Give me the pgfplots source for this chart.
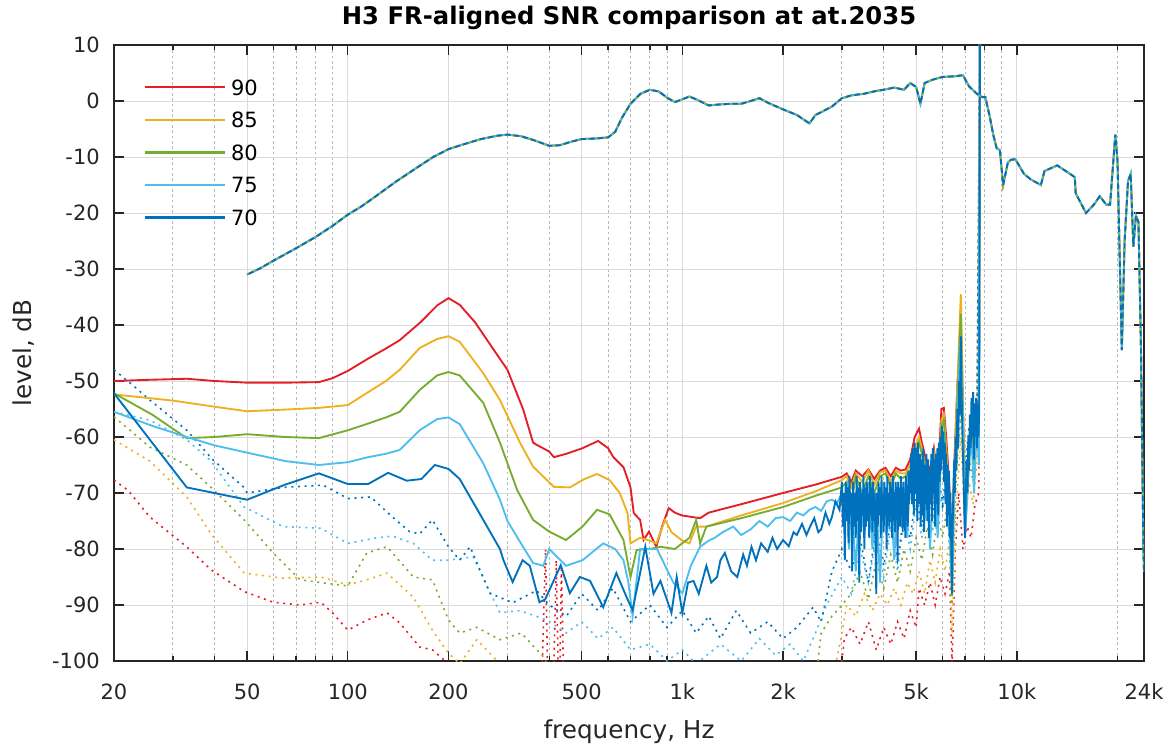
\documentclass[border=0pt]{standalone}
\usepackage{fontspec}
\setmainfont{DejaVu Sans}
\usepackage{pgfplots}
\usepackage{pgfplotstable}
\pgfplotsset{compat=1.18}
\definecolor{c90}{RGB}{228,30,38}
\definecolor{c85}{RGB}{237,177,32}
\definecolor{c80}{RGB}{119,172,48}
\definecolor{c75}{RGB}{77,190,238}
\definecolor{c70}{RGB}{0,114,189}
\definecolor{axc}{RGB}{38,38,38}
\begin{document}
\pgfplotstableread{
x y
50 -31
55 -29.8
60 -28.5
70 -26.3
80 -24.3
90 -22.3
100 -20.3
110 -18.8
120 -17.2
140 -14.3
160 -12.0
180 -10.0
200 -8.6
220 -7.8
250 -6.8
280 -6.2
300 -6.0
330 -6.3
360 -7.0
400 -8.0
430 -7.9
470 -7.2
500 -6.8
550 -6.7
600 -6.5
630 -5.5
660 -3.0
700 -0.5
750 1.3
800 2.0
850 1.7
900 0.6
950 -0.2
1000 0.3
1050 0.8
1100 0.3
1200 -0.8
1300 -0.6
1400 -0.5
1500 -0.5
1600 0.0
1700 0.5
1800 -0.3
2000 -1.5
2200 -2.5
2400 -4.0
2500 -2.5
2600 -2.0
2800 -1.0
3000 0.5
3200 1.0
3500 1.3
3800 1.8
4000 2.0
4300 2.4
4600 2.0
4800 3.2
5000 2.5
5150 -0.5
5300 3.2
5600 3.8
6000 4.3
6500 4.4
6900 4.6
7200 2.6
7500 1.6
7700 1.0
7900 0.7
8050 0.7
8300 -2.8
8500 -6
8700 -8.4
8900 -8.8
9100 -15
9400 -11
9600 -10.5
9900 -10.4
10500 -13
11000 -14
11800 -15
12100 -12.5
13200 -11.5
14000 -12.5
14900 -13.6
15000 -16.5
16100 -20
17000 -18.5
17700 -17
18500 -18.5
19000 -18.5
19700 -6
20000 -10.7
20600 -44.5
21000 -25
21500 -14.3
21900 -13
22300 -26
22700 -20.5
23100 -21.6
23500 -44
23900 -80
24000 -84
}\frdata
\begin{tikzpicture}
\useasboundingbox (-85.5pt,-63.75pt) rectangle (792pt,495.75pt);
\begin{axis}[
  scale only axis, width=772.5pt, height=462pt,
  xmode=log, xmin=20, xmax=24000, ymin=-100, ymax=10,
  xtick={20,50,100,200,500,1000,2000,5000,10000,24000},
  xticklabels={20,50,100,200,500,1k,2k,5k,10k,24k},
  minor xtick={30,40,60,70,80,90,300,400,600,700,800,900,3000,4000,6000,7000,8000,9000,20000},
  ytick={-100,-90,...,10},
  /pgf/number format/assume math mode=true,
  grid=both,
  major grid style={black!14, line width=0.7pt},
  minor grid style={black!28, line width=0.7pt, dash pattern=on 2pt off 2pt},
  axis line style={axc, line width=1pt},
  tick style={axc, line width=1pt},
  major tick length=7.5pt, minor tick length=3.5pt,
  tick align=inside,
  tick label style={font=\fontsize{15.75pt}{18pt}\selectfont, text=axc},
  xticklabel style={inner sep=0pt, anchor=base, yshift=-28.5pt},
  yticklabel style={inner sep=0pt, anchor=east, xshift=-10.5pt},
  xlabel={frequency, Hz},
  ylabel={level, dB},
  title={H3 FR-aligned SNR comparison at at.2035},
  label style={font=\fontsize{18.5pt}{22pt}\selectfont, text=axc},
  xlabel style={at={(axis description cs:0.5,-0.125)}, anchor=base},
  ylabel style={at={(axis description cs:-0.0874,0.5)}, anchor=center},
  title style={font=\fontsize{18.2pt}{22pt}\selectfont\bfseries, at={(axis description cs:0.5,1.0205)}, anchor=base, inner sep=0pt},
  legend cell align=left,
  legend image code/.code={\draw[#1, line width=1.6pt] (0pt,0pt) -- (60pt,0pt);},
  legend style={at={(0.0285,0.944)}, anchor=north west, draw=none, fill=none,
    inner sep=0pt, font=\fontsize{15.75pt}{18pt}\selectfont,
    row sep=12.9pt, column sep=4pt, nodes={inner sep=0pt, text height=11.5pt, text depth=0pt}},
]
% dotted noise floors
\addplot[forget plot, c90, line width=1.2pt, dash pattern=on 1.5pt off 3.5pt] coordinates {
(20,-67.7) (22,-69.5) (25.6,-74.3) (33,-79.6) (39,-83.7) (49,-87.6) (59.8,-89.5) (72,-90) (83,-89.5) (90,-91.4) (100,-94.5) (114,-92.7) (131,-91.4) (143,-93.2) (164,-97.5) (179,-98) (200,-100.5) (220,-104) (380,-104) (390,-80) (396,-104) (412,-104) (420,-82) (426,-104) (430,-104) (435,-83) (442,-104) (2950,-104) (3050,-96) (3200,-94) (3400,-97) (3600,-93) (3800,-98) (4000,-94) (4200,-97) (4400,-93) (4600,-96) (4800,-91) (5000,-94) (5100,-87) (5300,-90) (5500,-86) (5700,-90) (5900,-85) (6100,-88) (6300,-84) (6400,-101) (6550,-80) (6700,-70) (6900,-80) (7100,-76) (7300,-78) (7500,-72) (7700,-70) (7760,15)};
\addplot[forget plot, c85, line width=1.2pt, dash pattern=on 1.5pt off 3.5pt] coordinates {
(20,-60.5) (25.6,-64.3) (33,-70.7) (39,-77.3) (49,-84.3) (64,-85.2) (83,-85) (100,-86.4) (114,-85.5) (131,-84.3) (157,-88.6) (179,-94.5) (200,-98.6) (216,-100.5) (243,-96.2) (285,-100.5) (320,-104) (2800,-104) (3000,-95) (3100,-90) (3300,-92) (3500,-88) (3700,-91) (3900,-88) (4100,-90) (4300,-87) (4500,-90) (4700,-86) (4900,-88) (5100,-84) (5300,-88) (5500,-82) (5700,-86) (5900,-80) (6100,-84) (6300,-78) (6400,-95) (6600,-72) (6800,-60) (7000,-76) (7200,-68) (7400,-72) (7600,-64) (7760,15)};
\addplot[forget plot, c80, line width=1.2pt, dash pattern=on 1.5pt off 3.5pt] coordinates {
(20,-56.4) (25.6,-61.8) (33,-65) (39,-69) (49,-74.8) (59.8,-80.7) (72,-85.5) (83,-86) (100,-86.6) (114,-80.7) (131,-79.6) (157,-85) (179,-85.5) (200,-92.7) (216,-95) (243,-94) (285,-96.2) (330,-95) (385,-99.3) (420,-104) (2500,-104) (2600,-95) (2800,-92) (3000,-90) (3200,-88) (3400,-84) (3600,-89) (3800,-82) (4000,-87) (4200,-81) (4400,-86) (4600,-80) (4800,-84) (5000,-78) (5200,-82) (5400,-76) (5600,-81) (5800,-74) (6000,-78) (6200,-72) (6400,-90) (6600,-66) (6800,-56) (7000,-72) (7200,-64) (7400,-68) (7600,-60) (7760,15)};
\addplot[forget plot, c75, line width=1.2pt, dash pattern=on 1.5pt off 3.5pt] coordinates {
(20,-55.5) (25.6,-57) (33,-60.5) (39,-64.3) (49,-72.5) (64,-76) (83,-76.3) (100,-79) (122,-78) (136,-77.7) (157,-79) (179,-82) (200,-82) (237,-81.4) (285,-91.4) (327,-91) (394,-92.7) (450,-95) (500,-93) (560,-96) (620,-94) (700,-98) (800,-97) (900,-100) (1000,-98) (1100,-100.5) (1300,-97) (1500,-100) (1700,-96) (1900,-99) (2100,-97) (2300,-100) (2500,-95) (2700,-90) (3000,-85) (3200,-88) (3400,-80) (3600,-86) (3800,-78) (4000,-85) (4200,-76) (4400,-84) (4600,-74) (4800,-80) (5000,-72) (5200,-78) (5400,-70) (5600,-77) (5800,-68) (6000,-73) (6200,-66) (6400,-84) (6600,-62) (6800,-52) (7000,-68) (7200,-60) (7400,-64) (7600,-57) (7760,15)};
\addplot[forget plot, c70, line width=1.2pt, dash pattern=on 1.5pt off 3.5pt] coordinates {
(20,-48) (22,-50) (25.6,-53.4) (33,-58.8) (39.4,-64) (48.9,-69) (50,-70) (64,-69) (84.5,-68.6) (100,-71) (117,-70.7) (136,-74.3) (153,-76.9) (164,-77.3) (179,-74.8) (200,-79.6) (216,-82) (232,-79.6) (266,-87.9) (311,-89.6) (367,-87.4) (400,-90) (450,-92) (500,-88) (560,-91) (620,-87) (700,-93) (800,-90) (900,-94) (1000,-91) (1100,-95) (1200,-92) (1300,-96) (1450,-91) (1600,-95) (1800,-93) (2000,-96) (2200,-94) (2460,-90.4) (2600,-93) (2800,-84) (3000,-80) (3200,-84) (3400,-78) (3600,-86) (3800,-76) (4000,-83) (4200,-75) (4400,-82) (4600,-74) (4800,-78) (5000,-70) (5200,-76) (5400,-68) (5600,-74) (5800,-66) (6000,-72) (6200,-64) (6400,-80) (6600,-60) (6800,-50) (7000,-66) (7200,-58) (7400,-62) (7600,-55) (7760,15)};
% solid SNR curves
\addplot[c90, line width=1.4pt] coordinates {
(20,-50.0) (25,-49.8) (33,-49.6) (40,-50.0) (50,-50.3) (65,-50.3) (82,-50.2) (90,-49.5) (100,-48.2) (115,-46) (130,-44.2) (143,-42.7) (165,-39.5) (185,-36.5) (200,-35.2) (216,-36.4) (240,-39.5) (270,-44) (300,-48) (334,-55) (358,-61) (367,-61.4) (400,-62.6) (413,-63.6) (450,-63) (503,-62) (560,-60.7) (600,-62) (622,-63.6) (667,-65.4) (700,-69) (716,-73.6) (748,-74.8) (766,-78.4) (795,-76.9) (836,-79.6) (870,-76) (910,-72.7) (950,-73.5) (995,-74) (1130,-74.5) (1200,-73.5) (1500,-72) (2000,-70) (2500,-68.5) (3000,-67.1) (3100,-66.5) (3200,-68) (3300,-66) (3450,-67) (3600,-65.8) (3750,-67.5) (3900,-66) (4050,-65.5) (4200,-67) (4350,-65.5) (4500,-66) (4650,-65.8) (4800,-64) (4950,-60) (5100,-58.5) (5200,-61) (5350,-64) (5500,-66) (5650,-62) (5800,-68) (5950,-55) (6050,-54.8) (6150,-60) (6300,-70) (6400,-80) (6500,-65) (6650,-50) (6800,-45) (6900,-55) (7000,-73) (7150,-65) (7300,-56) (7450,-60) (7600,-55) (7700,-58) (7760,15)};
\addlegendentry{90}
\addplot[c85, line width=1.4pt] coordinates {
(20,-52.4) (30,-53.5) (40,-54.6) (50,-55.4) (65,-55.1) (82,-54.8) (100,-54.3) (115,-52) (130,-50) (143,-48) (164,-44.1) (185,-42.5) (200,-42) (216,-43) (254,-48.6) (285,-53.4) (327,-61) (358,-65.3) (413,-68.9) (461,-69) (510,-67.5) (556,-66.6) (606,-67.7) (650,-70) (686,-73.6) (700,-79) (748,-78) (800,-78.5) (836,-79) (888,-74.8) (928,-77) (1000,-78.5) (1050,-79) (1100,-76) (1180,-76) (1500,-74) (2000,-71.8) (2500,-69.7) (3000,-67.7) (3100,-67) (3200,-69) (3300,-66.5) (3450,-68) (3600,-66) (3750,-68.5) (3900,-66.3) (4050,-66) (4200,-68) (4350,-66) (4500,-66.5) (4650,-66.5) (4800,-65) (4950,-62) (5100,-60) (5200,-62) (5350,-66) (5500,-68) (5650,-63) (5800,-70) (5950,-57) (6050,-56) (6150,-62) (6300,-72) (6400,-84) (6500,-66) (6650,-50) (6800,-34.5) (6900,-52) (7000,-75) (7150,-66) (7300,-58) (7450,-63) (7600,-56) (7700,-60) (7760,15)};
\addlegendentry{85}
\addplot[c80, line width=1.4pt] coordinates {
(20,-52.2) (26,-56) (33,-60.2) (40,-60) (50,-59.5) (65,-60) (82,-60.2) (100,-58.8) (115,-57.6) (130,-56.5) (143,-55.5) (164,-51.6) (185,-49) (200,-48.4) (216,-49) (254,-53.9) (285,-61) (321,-69.5) (358,-74.8) (400,-76.9) (449,-78.4) (503,-76) (556,-73) (606,-73.8) (667,-78.4) (700,-85) (730,-80.2) (800,-80) (860,-79.6) (950,-80) (1050,-78) (1100,-74.8) (1130,-79) (1180,-76) (1500,-74.5) (2000,-72.5) (2500,-70.5) (3000,-69) (3100,-68) (3200,-72) (3300,-67) (3450,-70) (3600,-67) (3750,-70) (3900,-67) (4050,-66.5) (4200,-69) (4350,-66.5) (4500,-67.5) (4650,-67) (4800,-66) (4950,-63) (5100,-61) (5200,-63) (5350,-68) (5500,-70) (5650,-64) (5800,-72) (5950,-58) (6050,-57) (6150,-64) (6300,-74) (6400,-86) (6500,-68) (6650,-52) (6800,-38) (6900,-55) (7000,-77) (7150,-67) (7300,-58) (7450,-65) (7600,-56) (7700,-62) (7760,15)};
\addlegendentry{80}
\addplot[c75, line width=1.4pt] coordinates {
(20,-55.5) (26,-58) (33,-60) (40,-61.5) (50,-62.8) (65,-64.3) (82,-65) (100,-64.5) (115,-63.6) (130,-63) (143,-62.3) (164,-58.8) (185,-56.8) (200,-56.5) (216,-57.7) (254,-64.7) (285,-71.2) (300,-75) (334,-79.6) (358,-82.5) (384,-83) (400,-80) (449,-83) (503,-82) (580,-79) (630,-80) (667,-82) (690,-86) (710,-92) (748,-80) (840,-80) (940,-86) (1000,-87.9) (1060,-83) (1130,-79.6) (1200,-78.5) (1250,-78) (1320,-77) (1420,-76) (1500,-77.5) (1600,-76.5) (1700,-75) (1800,-76) (1900,-74.5) (2000,-74.3) (2100,-75) (2200,-73.5) (2300,-74) (2400,-73) (2500,-72.5) (2600,-73.2) (2700,-71.5) (2800,-71.2) (2900,-71.8) (3000,-70) (3050,-76) (3100,-68) (3150,-80) (3200,-70) (3300,-84) (3400,-69) (3500,-78) (3600,-68) (3700,-80) (3800,-70) (3900,-86) (4000,-68) (4100,-77) (4200,-70) (4300,-82) (4400,-68) (4500,-76) (4600,-69) (4700,-78) (4800,-67) (4900,-72) (5000,-62) (5100,-70) (5200,-64) (5300,-75) (5400,-68) (5500,-80) (5650,-66) (5800,-78) (5950,-62) (6050,-60) (6150,-68) (6300,-78) (6400,-88) (6500,-70) (6650,-55) (6800,-42) (6900,-58) (7000,-78) (7150,-68) (7300,-59) (7450,-70) (7600,-57) (7700,-65) (7760,15)};
\addlegendentry{75}
\addplot[c70, line width=1.4pt] coordinates {
(20,-52.2) (33,-69) (50,-71.2) (65,-68.5) (82,-66.5) (100,-68.4) (115,-68.4) (132,-66.4) (150,-67.8) (166,-67.5) (182,-65) (200,-65.7) (216,-67.5) (254,-74.8) (285,-80) (292,-82) (311,-85.9) (333,-82) (350,-83) (374,-89.5) (389,-89) (433,-82.9) (461,-87.9) (494,-85) (530,-85.7) (580,-90.4) (635,-84.3) (686,-89) (710,-90.9) (748,-84.3) (775,-79.6) (820,-88) (860,-85.7) (928,-91.4) (962,-85) (1000,-91.4) (1040,-86) (1080,-85.7) (1120,-88) (1180,-83) (1220,-86) (1270,-85) (1300,-82) (1340,-80.7) (1400,-84) (1460,-85) (1520,-81) (1560,-83) (1610,-79.6) (1660,-82) (1720,-79) (1800,-80.5) (1860,-78) (1920,-80) (2000,-78.4) (2080,-79.5) (2150,-77) (2200,-77.5) (2280,-75.5) (2350,-77.5) (2410,-76) (2480,-74.5) (2550,-77) (2600,-76.5) (2680,-73.5) (2750,-75.5) (2800,-74.3) (2870,-71.5) (2950,-73)
(3000,-68) (3020,-76) (3040,-70) (3060,-82) (3080,-68) (3100,-75) (3120,-69) (3140,-79) (3160,-67) (3180,-74) (3200,-70) (3220,-84) (3240,-68) (3260,-76) (3280,-70) (3300,-78) (3320,-67) (3340,-75) (3360,-69) (3380,-86) (3400,-68) (3420,-77) (3440,-70) (3460,-74) (3480,-67) (3500,-80) (3520,-69) (3540,-76) (3560,-68) (3580,-75) (3600,-70) (3620,-78) (3640,-67) (3660,-74) (3680,-69) (3700,-77) (3720,-68) (3740,-75) (3760,-70) (3780,-79) (3800,-88) (3820,-70) (3840,-76) (3860,-68) (3880,-74) (3900,-69) (3920,-78) (3940,-67) (3960,-75) (3980,-70) (4000,-77) (4020,-68) (4040,-74) (4060,-69) (4080,-80) (4100,-67) (4120,-75) (4140,-70) (4160,-76) (4180,-68) (4200,-74) (4220,-69) (4240,-78) (4260,-67) (4280,-75) (4300,-70) (4320,-77) (4340,-68) (4360,-74) (4380,-69) (4400,-82) (4420,-68) (4440,-75) (4460,-70) (4480,-76) (4500,-67) (4520,-74) (4540,-69) (4560,-77) (4580,-68) (4600,-75) (4620,-70) (4640,-78) (4660,-67) (4680,-73) (4700,-69) (4720,-76) (4740,-66) (4760,-72) (4780,-68) (4800,-70) (4830,-63) (4860,-72) (4890,-62) (4920,-74) (4950,-61) (4980,-70) (5010,-62) (5040,-75) (5070,-61) (5100,-72) (5130,-63) (5160,-76) (5190,-64) (5220,-74) (5250,-62) (5280,-77) (5310,-65) (5340,-72) (5370,-63) (5400,-75) (5430,-64) (5460,-78) (5490,-66) (5520,-72) (5550,-63) (5580,-75) (5610,-62) (5640,-70) (5670,-64) (5700,-76) (5730,-63) (5760,-72) (5790,-62) (5820,-74) (5850,-61) (5880,-68) (5910,-60) (5940,-66) (5970,-58) (6000,-64) (6030,-59) (6060,-68) (6090,-61) (6120,-72) (6150,-63) (6180,-76) (6210,-65) (6240,-74) (6270,-66) (6300,-78) (6330,-70) (6370,-80) (6400,-88) (6430,-76) (6470,-68) (6500,-64) (6530,-70) (6560,-60) (6600,-66) (6640,-55) (6680,-62) (6720,-50) (6760,-56) (6800,-42) (6840,-52) (6880,-60) (6920,-66) (6960,-72) (7000,-78) (7040,-70) (7080,-64) (7120,-70) (7160,-60) (7200,-66) (7240,-56) (7280,-62) (7320,-53) (7360,-60) (7400,-52) (7440,-64) (7480,-54) (7520,-60) (7560,-53) (7600,-62) (7640,-54) (7680,-60) (7720,-55) (7760,15)};
\addlegendentry{70}
% FR-aligned dashed curves
\addplot[forget plot, c90, line width=1.4pt, dash pattern=on 4pt off 2.5pt, dash phase=0pt] table[x=x,y=y] {\frdata};
\addplot[forget plot, c85, line width=1.4pt, dash pattern=on 4pt off 2.5pt, dash phase=1.3pt] table[x=x,y=y] {\frdata};
\addplot[forget plot, c80, line width=1.4pt, dash pattern=on 4pt off 2.5pt, dash phase=2.6pt] table[x=x,y=y] {\frdata};
\addplot[forget plot, c75, line width=1.4pt, dash pattern=on 4pt off 2.5pt, dash phase=3.9pt] table[x=x,y=y] {\frdata};
\addplot[forget plot, c70, line width=1.4pt, dash pattern=on 4pt off 2.5pt, dash phase=5.2pt] table[x=x,y=y] {\frdata};
\end{axis}
\end{tikzpicture}
\end{document}
